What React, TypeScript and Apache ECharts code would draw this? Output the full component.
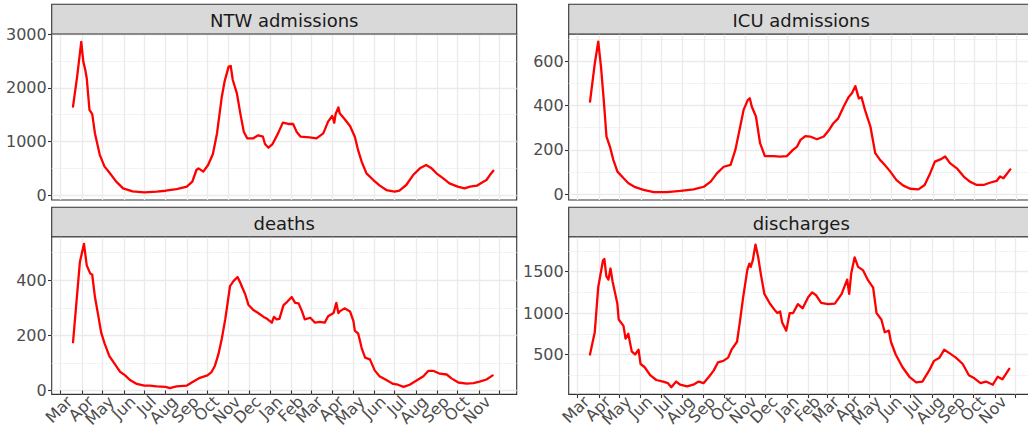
import React, { useEffect, useRef } from "react";
import * as echarts from "echarts";

// ---------- DATA ----------
const panelTitles = ["NTW admissions", "ICU admissions", "deaths", "discharges"];
const monthNames = ["Jan", "Feb", "Mar", "Apr", "May", "Jun", "Jul", "Aug", "Sep", "Oct", "Nov", "Dec"];

const ntwDates = [
  "2020-03-19","2020-03-25","2020-03-31","2020-04-03","2020-04-06","2020-04-08","2020-04-12","2020-04-16","2020-04-20","2020-04-27",
  "2020-05-04","2020-05-11","2020-05-21","2020-05-31","2020-06-14","2020-07-01","2020-07-19","2020-08-01","2020-08-17","2020-09-01",
  "2020-09-09","2020-09-15","2020-09-18","2020-09-25","2020-10-02","2020-10-09","2020-10-15","2020-10-22","2020-10-26","2020-11-01",
  "2020-11-04","2020-11-07","2020-11-13","2020-11-18","2020-11-23","2020-11-28","2020-12-07","2020-12-14","2020-12-21","2020-12-24",
  "2020-12-29","2021-01-04","2021-01-12","2021-01-19","2021-01-27","2021-02-03","2021-02-08","2021-02-14","2021-02-27","2021-03-09",
  "2021-03-19","2021-03-26","2021-04-01","2021-04-04","2021-04-06","2021-04-10","2021-04-12","2021-04-19","2021-04-27","2021-05-04",
  "2021-05-09","2021-05-14","2021-05-21","2021-05-31","2021-06-09","2021-06-19","2021-07-01","2021-07-08","2021-07-18","2021-07-28",
  "2021-08-07","2021-08-16","2021-08-24","2021-08-31","2021-09-10","2021-09-19","2021-10-01","2021-10-11","2021-10-19","2021-10-29",
  "2021-11-05","2021-11-12","2021-11-17","2021-11-22"
];
const ntwValues = [
  1650,2210,2860,2490,2330,2180,1590,1510,1150,750,
  530,420,250,125,68,50,62,80,112,156,
  250,467,498,436,560,766,1150,1836,2116,2396,
  2409,2147,1898,1525,1183,1058,1058,1114,1089,952,
  884,952,1151,1351,1326,1326,1183,1089,1077,1058,
  1151,1369,1475,1350,1512,1637,1525,1419,1288,1089,
  828,622,405,280,180,93,62,81,187,373,
  498,560,498,405,311,218,156,124,156,174,
  230,280,373,454
];

const icuDates = [
  "2020-03-19","2020-03-26","2020-03-31","2020-04-04","2020-04-08","2020-04-12","2020-04-17","2020-04-22","2020-04-28","2020-05-07",
  "2020-05-14","2020-05-24","2020-06-05","2020-06-20","2020-07-09","2020-07-29","2020-08-17","2020-09-01","2020-09-11","2020-09-20",
  "2020-09-30","2020-10-10","2020-10-17","2020-10-24","2020-10-29","2020-11-04","2020-11-07","2020-11-10","2020-11-16","2020-11-22",
  "2020-11-29","2020-12-12","2020-12-21","2020-12-31","2021-01-09","2021-01-15","2021-01-20","2021-01-27","2021-02-03","2021-02-13",
  "2021-02-23","2021-03-02","2021-03-09","2021-03-16","2021-03-24","2021-03-31","2021-04-05","2021-04-10","2021-04-15","2021-04-19",
  "2021-04-24","2021-05-02","2021-05-09","2021-05-16","2021-05-23","2021-05-31","2021-06-09","2021-06-19","2021-06-29","2021-07-11",
  "2021-07-20","2021-07-28","2021-08-04","2021-08-12","2021-08-19","2021-08-26","2021-09-05","2021-09-15","2021-09-24","2021-10-04",
  "2021-10-14","2021-10-23","2021-11-02","2021-11-07","2021-11-12","2021-11-22"
];
const icuValues = [
  417,590,687,575,425,260,215,155,102,72,
  50,32,20,10,10,15,22,34,57,94,
  124,132,200,304,380,424,432,394,350,230,
  172,172,170,172,200,215,245,262,260,248,
  260,287,320,342,395,437,455,487,432,437,
  380,304,185,155,132,102,64,39,25,22,
  42,94,147,157,170,140,117,80,57,42,
  42,52,60,80,72,112
];

const deathDates = [
  "2020-03-19","2020-03-29","2020-04-04","2020-04-08","2020-04-13","2020-04-16","2020-04-20","2020-04-25","2020-04-29","2020-05-04",
  "2020-05-11","2020-05-19","2020-05-27","2020-06-03","2020-06-10","2020-06-20","2020-07-01","2020-07-09","2020-07-19","2020-08-01",
  "2020-08-07","2020-08-17","2020-09-01","2020-09-10","2020-09-20","2020-10-01","2020-10-07","2020-10-12","2020-10-17","2020-10-22",
  "2020-10-27","2020-10-31","2020-11-03","2020-11-08","2020-11-14","2020-11-18","2020-11-21","2020-11-25","2020-11-30","2020-12-07",
  "2020-12-14","2020-12-22","2020-12-27","2021-01-03","2021-01-06","2021-01-10","2021-01-14","2021-01-20","2021-01-25","2021-02-01",
  "2021-02-06","2021-02-11","2021-02-16","2021-02-20","2021-02-28","2021-03-07","2021-03-14","2021-03-21","2021-03-26","2021-04-03",
  "2021-04-07","2021-04-10","2021-04-12","2021-04-19","2021-04-27","2021-05-02","2021-05-04","2021-05-09","2021-05-14","2021-05-19",
  "2021-05-26","2021-06-02","2021-06-09","2021-06-19","2021-06-29","2021-07-06","2021-07-14","2021-07-23","2021-08-02","2021-08-12",
  "2021-08-19","2021-08-27","2021-09-05","2021-09-15","2021-09-22","2021-10-02","2021-10-14","2021-10-24","2021-11-02","2021-11-12",
  "2021-11-21"
];
const deathValues = [
  175,466,532,454,425,420,339,269,211,171,
  125,96,67,55,38,24,18,18,15,13,
  9,15,18,32,46,55,67,90,131,188,
  258,327,379,397,412,391,373,350,310,292,
  281,267,260,246,267,258,260,310,321,339,
  318,316,287,258,264,246,249,246,269,281,
  318,281,287,298,287,252,217,206,154,119,
  113,73,52,38,24,21,13,21,36,52,
  71,71,61,58,44,29,25,27,32,40,
  55
];

const dischargeDates = [
  "2020-03-19","2020-03-26","2020-03-31","2020-04-07","2020-04-09","2020-04-12","2020-04-15","2020-04-18","2020-04-21","2020-04-25",
  "2020-04-28","2020-04-30","2020-05-07","2020-05-10","2020-05-14","2020-05-19","2020-05-24","2020-05-29","2020-06-01","2020-06-07",
  "2020-06-15","2020-06-24","2020-07-04","2020-07-11","2020-07-16","2020-07-23","2020-07-29","2020-08-08","2020-08-17","2020-08-25",
  "2020-09-01","2020-09-09","2020-09-16","2020-09-22","2020-09-30","2020-10-07","2020-10-12","2020-10-20","2020-10-24","2020-10-29",
  "2020-11-04","2020-11-07","2020-11-09","2020-11-12","2020-11-16","2020-11-20","2020-11-24","2020-11-29","2020-12-07","2020-12-14",
  "2020-12-18","2020-12-22","2020-12-25","2020-12-31","2021-01-05","2021-01-10","2021-01-17","2021-01-24","2021-02-01","2021-02-07",
  "2021-02-13","2021-02-20","2021-03-02","2021-03-12","2021-03-22","2021-03-30","2021-04-02","2021-04-05","2021-04-10","2021-04-15",
  "2021-04-22","2021-04-29","2021-05-07","2021-05-12","2021-05-19","2021-05-24","2021-05-30","2021-06-02","2021-06-09","2021-06-19",
  "2021-06-29","2021-07-09","2021-07-18","2021-07-28","2021-08-04","2021-08-12","2021-08-19","2021-08-26","2021-09-05","2021-09-15",
  "2021-09-24","2021-10-02","2021-10-11","2021-10-19","2021-10-29","2021-11-05","2021-11-12","2021-11-22"
];
const dischargeValues = [
  500,769,1308,1635,1654,1442,1404,1538,1385,1231,
  1115,923,846,692,750,538,500,558,385,346,
  250,192,173,154,105,173,135,115,135,173,
  154,231,308,404,423,462,558,654,885,1192,
  1519,1596,1558,1635,1827,1673,1462,1231,1115,1038,
  1000,1019,885,788,1000,1000,1108,1058,1192,1250,
  1212,1123,1108,1115,1231,1404,1231,1481,1673,1558,
  1519,1404,1308,1000,923,769,788,654,500,346,
  231,162,173,308,423,462,558,519,462,385,
  250,212,154,173,135,231,200,327
];

const ntwTicks = [0, 1000, 2000, 3000];
const ntwMinor = [500, 1500, 2500];
const icuTicks = [0, 200, 400, 600];
const icuMinor = [100, 300, 500, 700];
const deathTicks = [0, 200, 400];
const deathMinor = [100, 300, 500];
const dischargeTicks = [500, 1000, 1500];
const dischargeMinor = [250, 750, 1250, 1750];

// ---------- LAYOUT ----------
const DAY = 86400000;
const T0 = Date.UTC(2020, 2, 1);
const X_MIN = T0 - 13.1 * DAY;
const X_MAX = T0 + 665.1 * DAY;
const monthTicks = Array.from({ length: 22 }, (_, i) => Date.UTC(2020, 2 + i, 1));
const labelPositions = monthTicks.slice(0, 21).map((t) => t + 13 * DAY);
const FIRST_LABEL = labelPositions[0];
const LAST_LABEL = labelPositions[labelPositions.length - 1];
// empty guard labels at both ends so the real end labels keep their neighbours
const labelValues = [X_MIN + DAY, ...labelPositions, X_MAX - DAY];

const FONT = "DejaVu Sans";
const PW = 465;
const panels = [
  { title: panelTitles[0], dates: ntwDates, values: ntwValues, ticks: ntwTicks, minor: ntwMinor, min: -93, max: 3006, left: 51.7, top: 34, h: 166, bottom: false, stripTop: 4.3 },
  { title: panelTitles[1], dates: icuDates, values: icuValues, ticks: icuTicks, minor: icuMinor, min: -25.7, max: 721.6, left: 568.7, top: 34, h: 166, bottom: false, stripTop: 4.3 },
  { title: panelTitles[2], dates: deathDates, values: deathValues, ticks: deathTicks, minor: deathMinor, min: -13.9, max: 558, left: 51.7, top: 236.7, h: 165, bottom: true, stripTop: 207.3 },
  { title: panelTitles[3], dates: dischargeDates, values: dischargeValues, ticks: dischargeTicks, minor: dischargeMinor, min: 19, max: 1922, left: 568.7, top: 236.7, h: 165, bottom: true, stripTop: 207.3 },
];

function buildOption() {
  const grid: any[] = [];
  const xAxis: any[] = [];
  const yAxis: any[] = [];
  const series: any[] = [];
  const graphic: any[] = [];

  panels.forEach((p, i) => {
    grid.push({
      left: p.left, top: p.top, width: PW, height: p.h,
      show: true, backgroundColor: "#FFFFFF", borderColor: "#333333", borderWidth: 1.1,
      containLabel: false,
    });
    xAxis.push({
      type: "value", gridIndex: i, min: X_MIN, max: X_MAX, scale: true,
      axisLine: { show: false },
      axisTick: { show: p.bottom, customValues: monthTicks, length: 3.7, lineStyle: { color: "#333333", width: 1.1 } },
      axisLabel: {
        show: p.bottom, customValues: labelValues, rotate: 45, margin: 4.5,
        showMinLabel: true, showMaxLabel: true, hideOverlap: false,
        fontFamily: FONT, fontSize: 16, lineHeight: 11, color: "#4D4D4D",
        formatter: (v: number) => (v < FIRST_LABEL - DAY || v > LAST_LABEL + DAY ? "" : monthNames[new Date(v).getUTCMonth()]),
      },
      splitLine: { show: true, lineStyle: { color: "#EBEBEB", width: 1.3 } },
    });
    // major y axis
    yAxis.push({
      type: "value", gridIndex: i, min: p.min, max: p.max, position: "left",
      axisLine: { show: false },
      axisTick: { show: true, customValues: p.ticks, length: 3.7, lineStyle: { color: "#333333", width: 1.1 } },
      axisLabel: { show: true, customValues: p.ticks, margin: 5, showMinLabel: true, showMaxLabel: true, fontFamily: FONT, fontSize: 16, color: "#4D4D4D", formatter: (v: number) => String(v) },
      splitLine: { show: true, lineStyle: { color: "#EBEBEB", width: 1.3 } },
    });
    // minor grid axis
    yAxis.push({
      type: "value", gridIndex: i, min: p.min, max: p.max, position: "left",
      axisLine: { show: false },
      axisTick: { show: false, customValues: p.minor },
      axisLabel: { show: false, customValues: p.minor },
      splitLine: { show: true, lineStyle: { color: "#F0F0F0", width: 0.8 } },
    });
    series.push({
      type: "line", xAxisIndex: i, yAxisIndex: 2 * i,
      data: p.dates.map((d, k) => [Date.parse(d), p.values[k]]),
      showSymbol: false, symbol: "none", smooth: false,
      lineStyle: { color: "#FF0000", width: 2.3, join: "round", cap: "round" },
      z: 5,
    });
    const sh = p.top - p.stripTop;
    graphic.push({
      type: "rect",
      shape: { x: p.left, y: p.stripTop, width: PW, height: sh },
      style: { fill: "#D9D9D9", stroke: "#333333", lineWidth: 1.1 },
      z: 10,
    });
    graphic.push({
      type: "text",
      x: p.left + PW / 2, y: p.stripTop + sh / 2 + 1.5,
      style: { text: p.title, fontFamily: FONT, fontSize: 18, fill: "#1A1A1A", textAlign: "center", textVerticalAlign: "middle" },
      z: 11,
    });
  });

  return { animation: false, backgroundColor: "#FFFFFF", grid, xAxis, yAxis, series, graphic };
}

export default function App() {
  const ref = useRef<HTMLDivElement>(null);
  useEffect(() => {
    if (!ref.current) return;
    const chart = echarts.init(ref.current, undefined, { renderer: "svg", width: 1034, height: 430 });
    chart.setOption(buildOption() as any);
    return () => chart.dispose();
  }, []);
  return (
    <div style={{ position: "fixed", left: 0, top: 0, width: 1028, height: 430, overflow: "hidden", background: "#FFFFFF" }}>
      <div ref={ref} style={{ width: 1034, height: 430 }} />
    </div>
  );
}
